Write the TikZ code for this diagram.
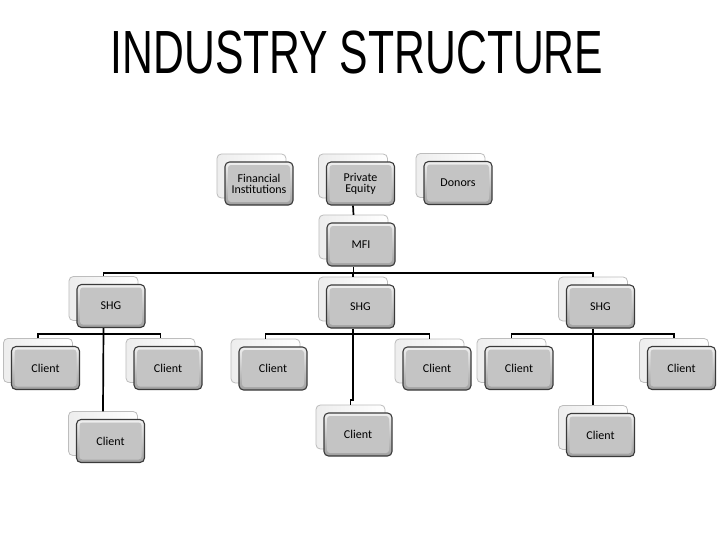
\documentclass[tikz,border=0pt]{standalone}
\usepackage{fontspec}
\setmainfont{Carlito}
\newfontfamily\titlefont{Liberation Sans}
\usetikzlibrary{backgrounds}
\definecolor{boxgray}{HTML}{C4C4C4}
\definecolor{boxedge}{HTML}{3A3A3A}
\definecolor{backedge}{HTML}{BDBDBD}
\tikzset{
  unit/.style={rectangle, rounded corners=4.5pt, minimum width=68pt, minimum height=43pt,
    inner sep=0pt, draw=boxedge, line width=1.1pt, top color=white!88!gray, bottom color=gray!75,
    align=center, font=\fontsize{12}{13}\selectfont,
    path picture={\fill[boxgray, rounded corners=3pt]
      ([shift={(3pt,-3pt)}]path picture bounding box.north west) rectangle
      ([shift={(-3pt,3pt)}]path picture bounding box.south east);}},
  backbox/.style={draw=backedge, line width=0.8pt, rounded corners=4.5pt, left color=gray!14, right color=white},
  conn/.style={draw=black, line width=1.7pt}
}
\begin{document}
\begin{tikzpicture}[x=1pt,y=-1pt]
\useasboundingbox (0,0) rectangle (728,546);
\node[font=\titlefont\fontsize{61}{61}\selectfont, xscale=0.70, anchor=base, inner sep=0pt] (title) at (357,73) {INDUSTRY STRUCTURE};

\node[unit] (fi) at (259,183.5) {Financial\\[-2pt]Institutions};
\node[unit] (pe) at (360.5,183.5) {Private\\[-2pt]Equity};
\node[unit] (don) at (458,183) {Donors};
\node[unit] (mfi) at (361,244.5) {MFI};
\node[unit] (shgl) at (111,306) {SHG};
\node[unit] (shgm) at (360.5,306.5) {SHG};
\node[unit] (shgr) at (600.5,306.5) {SHG};
\node[unit] (cl1) at (45.5,368) {Client};
\node[unit] (cl2) at (168,368) {Client};
\node[unit] (cl3) at (110.5,441) {Client};
\node[unit] (cm1) at (273,368.5) {Client};
\node[unit] (cm2) at (437,368.5) {Client};
\node[unit] (cm3) at (358,434.5) {Client};
\node[unit] (cr1) at (519,368) {Client};
\node[unit] (cr2) at (681.5,368) {Client};
\node[unit] (cr3) at (600.5,435) {Client};

\begin{pgfonlayer}{background}
\foreach \n in {fi,pe,don,mfi,shgl,shgm,shgr,cl1,cl2,cl3,cm1,cm2,cm3,cr1,cr2,cr3}{
  \path[backbox] ([shift={(-7.5pt,7.5pt)}]\n.south west) rectangle ([shift={(-7.5pt,7.5pt)}]\n.north east);
}
\end{pgfonlayer}

\coordinate (bus) at (0,273);
\coordinate (busl) at (0,334);

\draw[conn] ([xshift=-7.5pt]pe.south) -- ([xshift=-7.5pt,yshift=7.5pt]mfi.north);
\draw[conn] ([xshift=-7.5pt]mfi.south) -- ([xshift=-7.5pt]mfi.south |- bus);
\draw[conn] ([xshift=-7.5pt,yshift=7.5pt]shgl.north) |- ([xshift=-7.5pt]shgr.north |- bus) -- ([xshift=-7.5pt,yshift=7.5pt]shgr.north);
\draw[conn] ([xshift=-7.5pt]shgm.north |- bus) -- ([xshift=-7.5pt,yshift=7.5pt]shgm.north);

\draw[conn] ([xshift=-7.5pt,yshift=7.5pt]cl1.north) |- ([xshift=-7.5pt]cl2.north |- busl) -- ([xshift=-7.5pt,yshift=7.5pt]cl2.north);
\draw[conn] ([xshift=-7.5pt]shgl.south) -- ([xshift=-7.5pt,yshift=7.5pt]cl3.north);
\draw[conn] ([xshift=-7.5pt,yshift=7.5pt]cm1.north) |- ([xshift=-7.5pt]cm2.north |- busl) -- ([xshift=-7.5pt,yshift=7.5pt]cm2.north);
\draw[conn] ([xshift=-7.5pt]shgm.south) -- ([xshift=-7.5pt]shgm.south |- 0,400) -| ([xshift=-7.5pt,yshift=7.5pt]cm3.north);
\draw[conn] ([xshift=-7.5pt,yshift=7.5pt]cr1.north) |- ([xshift=-7.5pt]cr2.north |- busl) -- ([xshift=-7.5pt,yshift=7.5pt]cr2.north);
\draw[conn] ([xshift=-7.5pt]shgr.south) -- ([xshift=-7.5pt,yshift=7.5pt]cr3.north);
\end{tikzpicture}
\end{document}
